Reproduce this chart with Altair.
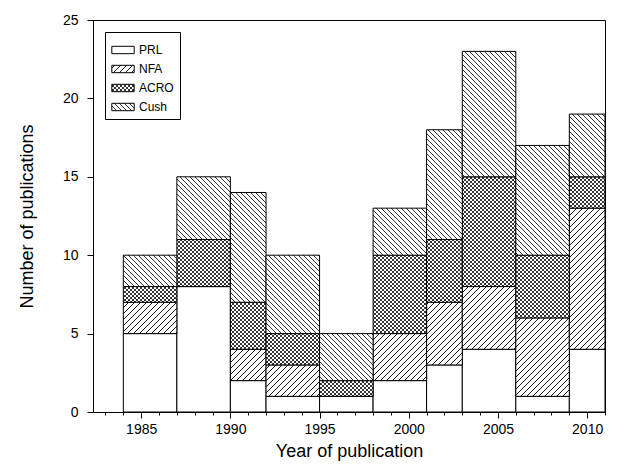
import altair as alt
import pandas as pd
import jinja2

bin_start = [1984, 1987, 1990, 1992, 1995, 1998, 2001, 2003, 2006, 2009]
bin_end = [1987, 1990, 1992, 1995, 1998, 2001, 2003, 2006, 2009, 2011]
groups = ["PRL", "NFA", "ACRO", "Cush"]
prl = [5, 8, 2, 1, 1, 2, 3, 4, 1, 4]
nfa = [2, 0, 2, 2, 0, 3, 4, 4, 5, 9]
acro = [1, 3, 3, 2, 1, 5, 4, 7, 4, 2]
cush = [2, 4, 7, 5, 3, 3, 7, 8, 7, 4]

rows = []
for k, (g, vals) in enumerate(zip(groups, [prl, nfa, acro, cush])):
    for s, e, v in zip(bin_start, bin_end, vals):
        rows.append({"start": s, "end": e, "group": g, "n": v, "order": k})
df = pd.DataFrame(rows)

# hatch patterns injected into the page so the svg fills can reference them
defs = """<svg width="0" height="0" style="position:absolute"><defs>
<pattern id="nfa" patternUnits="userSpaceOnUse" width="6" height="6">
<rect width="6" height="6" fill="white"/>
<path d="M-1,1 l2,-2 M0,6 l6,-6 M5,7 l2,-2" stroke="black" stroke-width="0.9"/></pattern>
<pattern id="acro" patternUnits="userSpaceOnUse" width="4" height="4">
<rect width="4" height="4" fill="white"/>
<path d="M-1,1 l2,-2 M0,4 l4,-4 M3,5 l2,-2 M-1,3 l2,2 M0,0 l4,4 M3,-1 l2,2" stroke="black" stroke-width="0.8"/></pattern>
<pattern id="cush" patternUnits="userSpaceOnUse" width="5" height="5">
<rect width="5" height="5" fill="white"/>
<path d="M-1,4 l2,2 M0,0 l5,5 M4,-1 l2,2" stroke="black" stroke-width="0.8"/></pattern>
</defs></svg>"""

page = """<!DOCTYPE html>
<html>
<head>
<meta charset="UTF-8">
<script src="{{ base_url }}/vega@{{ vega_version }}"></script>
<script src="{{ base_url }}/vega-lite@{{ vegalite_version }}"></script>
<script src="{{ base_url }}/vega-embed@{{ vegaembed_version }}"></script>
</head>
<body>
""" + defs + """
<div id="{{ output_div }}"></div>
<script>
vegaEmbed("#{{ output_div }}", {{ spec }}, {{ embed_options }}).catch(console.error);
</script>
</body>
</html>"""
alt.utils.html.TEMPLATES["standard"] = jinja2.Template(page)

bars = alt.Chart(df).transform_stack(
    stack="n", groupby=["start"], as_=["y0", "y1"], sort=[alt.SortField("order")]
).mark_rect(stroke="black", strokeWidth=1).encode(
    x=alt.X("start:Q", title="Year of publication",
            scale=alt.Scale(domain=[1982.3, 2011], nice=False, zero=False),
            axis=alt.Axis(values=list(range(1983, 2012)),
                          labelExpr="datum.value % 5 === 0 ? datum.value : ''",
                          tickSize=alt.ExprRef("datum.value % 5 === 0 ? 6 : 3"),
                          labelFlush=False, labelOverlap=False)),
    x2="end:Q",
    y=alt.Y("y0:Q", title="Number of publications",
            scale=alt.Scale(domain=[0, 25], nice=False),
            axis=alt.Axis(values=[0, 5, 10, 15, 20, 25], tickSize=6,
                          labelPadding=9, titlePadding=26)),
    y2="y1:Q",
    color=alt.Color("group:N", sort=groups, title=None,
                    scale=alt.Scale(domain=groups,
                                    range=["white", "url(#nfa)", "url(#acro)", "url(#cush)"]),
                    legend=alt.Legend(orient="none", legendX=12, legendY=12,
                                      strokeColor="black", padding=6,
                                      symbolType="M-1,-0.33H1V0.33H-1Z", symbolSize=500,
                                      symbolStrokeColor="black", symbolStrokeWidth=1,
                                      symbolOpacity=1, labelFontSize=12, rowPadding=1)),
)

chart = bars.properties(
    width=512, height=392, padding={"left": 10, "top": 5, "right": 5, "bottom": 5}
).configure_view(
    stroke="black", strokeWidth=1
).configure_axis(
    grid=False, domainColor="black", tickColor="black", labelColor="black",
    titleColor="black", labelFontSize=14, titleFontSize=18, titleFontWeight="normal",
    labelFont="Liberation Sans", titleFont="Liberation Sans", labelPadding=4
).configure_legend(labelFont="Liberation Sans").configure_axisX(titlePadding=6)

chart.save("out.html", embed_options={"renderer": "svg", "actions": False})
